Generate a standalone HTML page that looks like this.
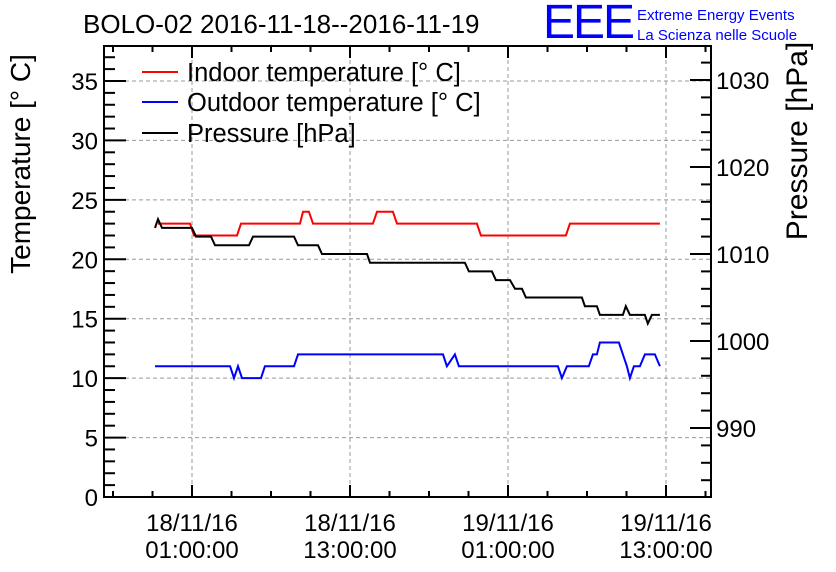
<!DOCTYPE html>
<html><head><meta charset="utf-8"><style>
body{margin:0;background:#fff;}
svg{display:block;font-family:"Liberation Sans",sans-serif;}
</style></head><body>
<svg id="chart" width="836" height="572" viewBox="0 0 836 572">
<rect width="836" height="572" fill="#fff"/>
<g id="grid"></g>
<g id="series"></g>
<rect x="104" y="46" width="607" height="451" fill="none" stroke="#000" stroke-width="2"/>
<g id="axes"></g>
<text x="83" y="33" font-size="26">BOLO-02 2016-11-18--2016-11-19</text>
<text x="543" y="38" font-size="48" fill="#0000ff" letter-spacing="-2">EEE</text>
<text x="637" y="20" font-size="15" fill="#0000ff">Extreme Energy Events</text>
<text x="637" y="40" font-size="15" fill="#0000ff">La Scienza nelle Scuole</text>
<g>
<line x1="142" y1="72" x2="178" y2="72" stroke="#ff0000" stroke-width="2"/>
<text x="187" y="81" font-size="25.5">Indoor temperature [° C]</text>
<line x1="142" y1="102" x2="178" y2="102" stroke="#0000ff" stroke-width="2"/>
<text x="187" y="111" font-size="25.5">Outdoor temperature [° C]</text>
<line x1="142" y1="133" x2="178" y2="133" stroke="#000" stroke-width="2"/>
<text x="187" y="142" font-size="25.5">Pressure [hPa]</text>
</g>
<text transform="translate(30,164) rotate(-90)" text-anchor="middle" font-size="28">Temperature [° C]</text>
<text transform="translate(807,141) rotate(-90)" text-anchor="middle" font-size="30">Pressure [hPa]</text>
</svg>
<script>
// hours since 18/11/16 00:00
const indoorT=[-1.58,0.85,1.15,4.42,4.72,9.20,9.43,9.88,10.19,14.74,15.05,16.26,16.57,22.64,22.94,29.40,29.70,36.54];
const indoorV=[23,23,22,22,23,23,24,24,23,23,24,24,23,23,22,22,23,23];
const outdoorT=[-1.81,3.89,4.19,4.49,4.80,6.24,6.54,8.75,9.05,20.06,20.36,20.97,21.27,28.79,29.09,29.47,31.14,31.45,31.75,31.98,33.42,33.73,34.03,34.26,34.56,35.02,35.40,36.16,36.54];
const outdoorV=[11,11,10,11,10,10,11,11,12,12,11,12,11,11,10,11,11,12,12,13,13,12,11,10,11,11,12,12,11];
const pressT=[-1.81,-1.58,-1.28,1.0,1.30,2.44,2.75,5.33,5.63,8.75,9.05,10.57,10.87,14.29,14.52,21.73,22.03,23.78,24.08,25.15,25.53,26.06,26.36,30.61,30.84,31.75,31.98,33.73,33.95,34.26,35.40,35.62,35.93,36.54];
const pressV=[1013,1014,1013,1013,1012,1012,1011,1011,1012,1012,1011,1011,1010,1010,1009,1009,1008,1008,1007,1007,1006,1006,1005,1005,1004,1004,1003,1003,1004,1003,1003,1002,1003,1003];
const tempTicks=[0,5,10,15,20,25,30,35];
const pressTicks=[990,1000,1010,1020,1030];
const timeTicks=[1,13,25,37];
const timeLabels=[["18/11/16","01:00:00"],["18/11/16","13:00:00"],["19/11/16","01:00:00"],["19/11/16","13:00:00"]];

const L=104,R=711,T=46,B=497;
const xS=h=>192+(h-1)*13.1667;
const yT=v=>B-v*11.886;
const yP=p=>341-(p-1000)*8.7;
const NS="http://www.w3.org/2000/svg";
function mk(tag,attrs,parent){const e=document.createElementNS(NS,tag);for(const k in attrs)e.setAttribute(k,attrs[k]);parent.appendChild(e);return e;}
const grid=document.getElementById('grid'),axes=document.getElementById('axes'),series=document.getElementById('series');

tempTicks.forEach(v=>{
  const y=yT(v);
  if(v>0){const g=mk('line',{x1:L,x2:R,y1:y,y2:y,stroke:'#999','stroke-dasharray':'4,3','stroke-width':1},grid);
  
  }
  const t=mk('line',{x1:L,x2:L+22,y1:y,y2:y,stroke:'#000','stroke-width':2},axes);
  
  
  const lb=mk('text',{x:98,y:y+9,'text-anchor':'end','font-size':24},axes);
  lb.textContent=v;
  
  
});
for(let v=1;v<38;v++){if(v%5===0)continue;
  const m=mk('line',{x1:L,x2:L+11,y1:yT(v),y2:yT(v),stroke:'#000','stroke-width':2},axes);
  
  }
pressTicks.forEach(p=>{
  const y=yP(p);
  const t=mk('line',{x1:R-21,x2:R,y1:y,y2:y,stroke:'#000','stroke-width':2},axes);
  
  
  const lb=mk('text',{x:716,y:y+9,'font-size':24},axes);
  lb.textContent=p;
  
  
});
for(let p=984;p<1034;p+=2){if(p%10===0)continue;
  const m=mk('line',{x1:R-10,x2:R,y1:yP(p),y2:yP(p),stroke:'#000','stroke-width':2},axes);
  
  }
for(let h=-5;h<=40;h+=3){const x=xS(h);if(x<L+2||x>R-2)continue;
  const major=timeTicks.includes(h);const len=major?12:6;
  const a=mk('line',{x1:x,x2:x,y1:B,y2:B-len,stroke:'#000','stroke-width':2},axes);
  
  
  const b=mk('line',{x1:x,x2:x,y1:T,y2:T+len,stroke:'#000','stroke-width':2},axes);
  
  }
timeTicks.forEach((h,i)=>{
  const x=xS(h);
  const g=mk('line',{x1:x,x2:x,y1:T,y2:B,stroke:'#999','stroke-dasharray':'4,3','stroke-width':1},grid);
  
  
  timeLabels[i].forEach((s,j)=>{
    const lb=mk('text',{x:x,y:531+j*27,'text-anchor':'middle','font-size':24},axes);
    lb.textContent=s;
    
    
  });
});
function line(ts,vs,yf,color,name){
  const d=ts.map((t,i)=>(i?'L':'M')+xS(t).toFixed(1)+','+yf(vs[i]).toFixed(1)).join('');
  const p=mk('path',{d:d,fill:'none',stroke:color,'stroke-width':2},series);
  
  
}
line(indoorT,indoorV,yT,'#ff0000','indoor-temperature-line');
line(outdoorT,outdoorV,yT,'#0000ff','outdoor-temperature-line');
line(pressT,pressV,yP,'#000000','pressure-line');
</script>
</body></html>
